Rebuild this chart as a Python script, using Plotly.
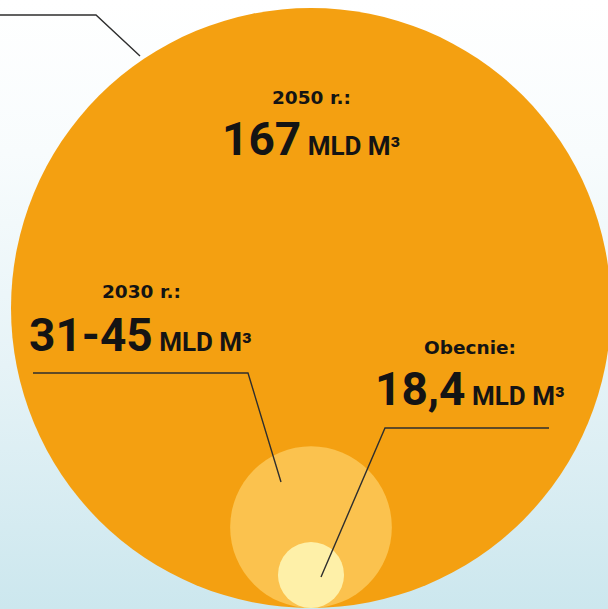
import plotly.graph_objects as go

# ---- data ----
periods = ["2050 r.:", "2030 r.:", "Obecnie:"]
value_labels = ["167", "31-45", "18,4"]
values = [167, 45, 18.4]          # bld m3 (2030 uses upper bound)
unit = "MLD M³"
colors = ["#F4A011", "#FBC24E", "#FEF0A8"]

W, H = 608, 609
BASE_X, BASE_Y = 311, 608     # common tangent point of the circles (bottom)
MAX_DIAM = 600

sizeref = max(values) / MAX_DIAM
radii = [v / sizeref / 2 for v in values]

fig = go.Figure()

# background gradient (white at top, pale blue at bottom)
fig.add_trace(go.Scatter(
    x=[0, W, W, 0, 0], y=[0, 0, H, H, 0], mode="lines", fill="toself",
    line=dict(width=0),
    fillgradient=dict(type="vertical",
                      colorscale=[[0, "#CCE7EE"], [0.4, "#E6F3F7"], [0.75, "#F8FCFD"], [1, "#FFFFFF"]]),
    hoverinfo="skip", showlegend=False))

# circles
fig.add_trace(go.Scatter(
    x=[BASE_X] * len(values),
    y=[BASE_Y - r for r in radii],
    mode="markers",
    marker=dict(size=values, sizemode="diameter", sizeref=sizeref,
                color=colors, line=dict(width=0), opacity=1),
    hoverinfo="skip", showlegend=False))

line_col = "#2E2E2E"
def leader(pts):
    path = "M " + " L ".join(f"{x},{y}" for x, y in pts)
    fig.add_shape(type="path", path=path, line=dict(color=line_col, width=1.4), layer="above")

leader([(0, 15), (96, 15), (140, 56)])
leader([(33, 373), (248, 373), (281, 482)])
leader([(549, 428), (385, 428), (321, 577)])

small_font = dict(family="DejaVu Sans", size=18.5, color="#141414", weight="bold")

label_pos = [(311, 97), (141, 291), (470, 347)]
num_pos = [(311, 139), (140, 335), (470, 389)]

for i in range(3):
    lx, ly = label_pos[i]
    fig.add_annotation(x=lx, y=ly, text=periods[i], showarrow=False,
                       xanchor="center", yanchor="middle", font=small_font)
    nx, ny = num_pos[i]
    txt = (f"<span style='font-size:46px'>{value_labels[i]}</span>"
           f"<span style='font-size:26px'> {unit}</span>")
    fig.add_annotation(x=nx, y=ny, text=txt, showarrow=False,
                       xanchor="center", yanchor="middle",
                       font=dict(family="Roboto", size=26, color="#141414", weight="bold"))

fig.update_layout(
    width=W, height=H, autosize=False,
    margin=dict(l=0, r=0, t=0, b=0, pad=0),
    paper_bgcolor="#FFFFFF", plot_bgcolor="#FFFFFF",
    xaxis=dict(range=[0, W], visible=False, fixedrange=True),
    yaxis=dict(range=[H, 0], visible=False, fixedrange=True),
    showlegend=False,
)

fig.write_html("out.html", config={"displayModeBar": False},
               post_script="document.body.style.margin='0px';document.body.style.overflow='hidden';")
